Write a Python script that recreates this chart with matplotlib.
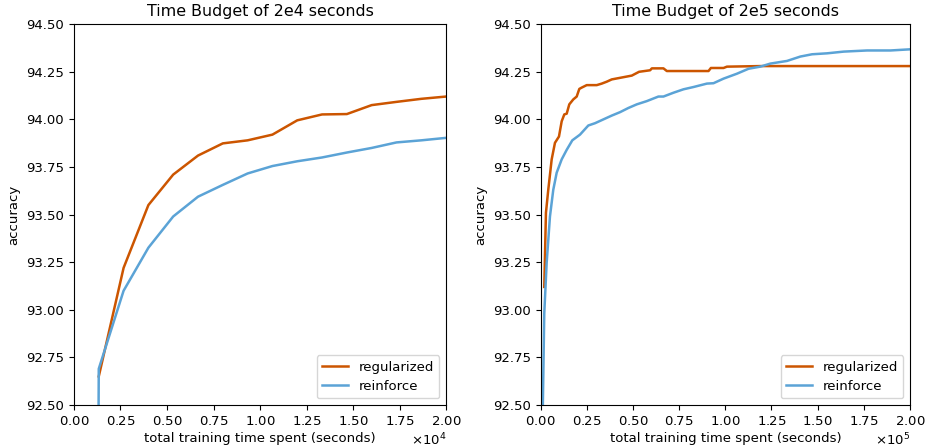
import matplotlib
matplotlib.use("Agg")
import matplotlib.pyplot as plt
import numpy as np

# budget 2e4
short_reg_t = [1333, 2667, 4000, 5333, 6667, 8000, 9333, 10667, 12000, 13333, 14667, 16000, 17333, 18667, 20000]
short_reg_acc = [92.65, 93.22, 93.55, 93.71, 93.81, 93.874, 93.89, 93.92, 93.995, 94.026, 94.028, 94.075, 94.092, 94.108, 94.12]
short_rei_t = [1290, 1333, 2667, 4000, 5333, 6667, 8000, 9333, 10667, 12000, 13333, 14667, 16000, 17333, 18667, 20000]
short_rei_acc = [91.8, 92.69, 93.10, 93.326, 93.49, 93.594, 93.656, 93.716, 93.755, 93.78, 93.80, 93.826, 93.85, 93.879, 93.89, 93.903]

# budget 2e5
long_reg_t = [1950, 2870, 4120, 5970, 7750, 9920, 11390, 12800, 14100, 15510, 17680, 19520, 20930, 22230,
              24950, 30370, 33080, 35790, 38500, 43930, 49350, 53310, 59270, 60200, 66490, 68330, 90890,
              92190, 99020, 100870, 118930, 200000]
long_reg_acc = [93.12, 93.51, 93.63, 93.79, 93.877, 93.91, 93.99, 94.026, 94.03, 94.079, 94.105, 94.12, 94.16, 94.167,
                94.18, 94.18, 94.188, 94.198, 94.21, 94.22, 94.23, 94.25, 94.258, 94.268, 94.268, 94.254, 94.254,
                94.27, 94.27, 94.277, 94.28, 94.28]
long_rei_t = [870, 1950, 3250, 5040, 6830, 8680, 11390, 14100, 17140, 21310, 25810, 29450, 34870, 38500, 43000,
              47510, 52060, 57480, 63770, 66490, 71910, 77330, 82750, 90020, 93600, 99020, 106290, 112580,
              118930, 124350, 133410, 140620, 146960, 155100, 164100, 176790, 189420, 200000]
long_rei_acc = [92.3, 92.98, 93.246, 93.49, 93.63, 93.72, 93.79, 93.84, 93.89, 93.92, 93.968, 93.98, 94.004, 94.02,
                94.038, 94.06, 94.079, 94.096, 94.12, 94.12, 94.14, 94.158, 94.17, 94.188, 94.19, 94.214, 94.24,
                94.266, 94.277, 94.293, 94.307, 94.33, 94.342, 94.347, 94.356, 94.362, 94.362, 94.368]

reg_color = "#cc5500"
rei_color = "#5ba3d6"

plt.rcParams["font.size"] = 9.5

fig = plt.figure(figsize=(9.28, 4.48), dpi=100)
ax1 = fig.add_axes([0.0797, 0.096, 0.401, 0.85])
ax2 = fig.add_axes([0.5826, 0.096, 0.398, 0.85])

panels = [
    (ax1, short_reg_t, short_reg_acc, short_rei_t, short_rei_acc, 2e4, "Time Budget of 2e4 seconds"),
    (ax2, long_reg_t, long_reg_acc, long_rei_t, long_rei_acc, 2e5, "Time Budget of 2e5 seconds"),
]
for ax, rt, ra, it, ia, budget, title in panels:
    ax.plot(rt, ra, color=reg_color, lw=1.8, label="regularized")
    ax.plot(it, ia, color=rei_color, lw=1.8, label="reinforce")
    ax.set_xlim(0, budget)
    ax.set_ylim(92.5, 94.5)
    ax.set_xticks(np.linspace(0, budget, 9))
    ax.ticklabel_format(axis="x", style="sci", scilimits=(0, 0), useMathText=True)
    ax.set_yticks(np.arange(92.5, 94.51, 0.25))
    ax.yaxis.set_major_formatter(matplotlib.ticker.FormatStrFormatter("%.2f"))
    ax.set_title(title, fontsize=11.4)
    ax.set_xlabel("total training time spent (seconds)", labelpad=3)
    ax.set_ylabel("accuracy")
    ax.legend(loc="lower right")

fig.savefig("out.png", dpi=100)
